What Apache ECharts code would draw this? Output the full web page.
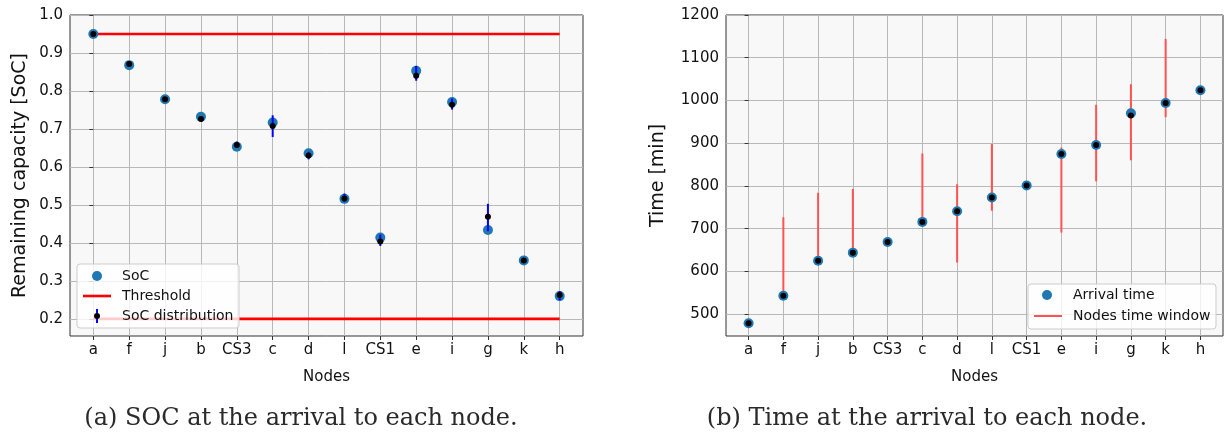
<!DOCTYPE html>
<html>
<head>
<meta charset="utf-8">
<script src="https://cdn.jsdelivr.net/npm/echarts@6/dist/echarts.min.js"></script>
<style>
html,body{margin:0;padding:0;background:#fff;}
#main{width:1228px;height:438px;}
</style>
</head>
<body>
<div id="main"></div>
<script>
// ---------- data ----------
var categories = ['a','f','j','b','CS3','c','d','l','CS1','e','i','g','k','h'];

// (a) state of charge at arrival
var socValues  = [0.950, 0.868, 0.778, 0.732, 0.653, 0.717, 0.636, 0.516, 0.414, 0.853, 0.771, 0.434, 0.354, 0.260];
var socMean    = [0.950, 0.871, 0.778, 0.726, 0.658, 0.708, 0.630, 0.517, 0.404, 0.840, 0.764, 0.469, 0.354, 0.263];
var socLow     = [0.948, 0.866, 0.776, 0.722, 0.652, 0.679, 0.620, 0.508, 0.392, 0.827, 0.751, 0.431, 0.352, 0.249];
var socHigh    = [0.952, 0.874, 0.780, 0.731, 0.667, 0.736, 0.640, 0.530, 0.422, 0.866, 0.780, 0.503, 0.357, 0.273];
var thresholdHigh = 0.95;
var thresholdLow  = 0.20;
var socTicks = [0.2, 0.3, 0.4, 0.5, 0.6, 0.7, 0.8, 0.9, 1.0];

// (b) arrival time
var arrivalTime = [479, 543, 625, 644, 669, 716, 741, 773, 801, 875, 896, 970, 994, 1024];
var arrivalMean = [479, 543, 625, 644, 669, 716, 741, 773, 801, 875, 896, 965, 994, 1024];
var windowLow   = [null, 543, 625, 644, null, 712, 621, 742, null, 691, 811, 860, 961, null];
var windowHigh  = [null, 727, 784, 793, null, 876, 804, 898, null, 890, 990, 1038, 1144, null];
var timeTicks = [500, 600, 700, 800, 900, 1000, 1100, 1200];

// ---------- build ----------
var idx = categories.map(function (c, i) { return i; });
function pairs(arr) { return arr.map(function (v, i) { return [i, v]; }); }

var errData = idx.map(function (i) { return [i, socMean[i], socLow[i], socHigh[i]]; });
var winData = [];
idx.forEach(function (i) {
  if (windowLow[i] != null) winData.push([i, windowLow[i], windowHigh[i]]);
});

var GRID_BG = '#f8f8f8';
var GRID_LINE = '#b8b8b8';
var FRAME = '#333333';
var TICK_FONT = 15;
var TXT = '#111111';

function xAxisCfg(g) {
  return {
    gridIndex: g, type: 'value', min: -0.65, max: 13.65,
    axisLine: { show: false },
    axisTick: { show: true, customValues: idx, length: 4, lineStyle: { color: FRAME, width: 1 } },
    axisLabel: { customValues: idx, margin: 7, fontSize: TICK_FONT, color: TXT, fontFamily: 'DejaVu Sans',
      formatter: function (v) { return categories[Math.round(v)]; } },
    splitLine: { show: true, customValues: idx, lineStyle: { color: GRID_LINE, width: 1 } },
    name: 'Nodes', nameLocation: 'middle', nameGap: 34,
    nameTextStyle: { fontSize: 15, color: TXT, fontFamily: 'DejaVu Sans' }
  };
}

function legendText(x, y, s) {
  return { type: 'text', x: x, y: y, z: 101,
    style: { text: s, fontSize: 14, fontFamily: 'DejaVu Sans', fill: TXT, verticalAlign: 'middle' } };
}

var option = {
  animation: false,
  backgroundColor: '#ffffff',
  grid: [
    { left: 70, top: 15, width: 513, height: 321, show: true, backgroundColor: GRID_BG, borderColor: FRAME, borderWidth: 1 },
    { left: 726, top: 15, width: 497, height: 321, show: true, backgroundColor: GRID_BG, borderColor: FRAME, borderWidth: 1 }
  ],
  xAxis: [xAxisCfg(0), xAxisCfg(1)],
  yAxis: [
    {
      gridIndex: 0, type: 'value', min: 0.155, max: 1.0,
      axisLine: { show: false },
      axisTick: { show: true, customValues: socTicks, length: 4, lineStyle: { color: FRAME } },
      axisLabel: { customValues: socTicks, margin: 7, fontSize: TICK_FONT, color: TXT, fontFamily: 'DejaVu Sans',
        formatter: function (v) { return v.toFixed(1); } },
      splitLine: { show: true, customValues: socTicks, lineStyle: { color: GRID_LINE, width: 1 } },
      name: 'Remaining capacity [SoC]', nameLocation: 'middle', nameGap: 40,
      nameTextStyle: { fontSize: 19, color: TXT, fontFamily: 'DejaVu Sans' }
    },
    {
      gridIndex: 1, type: 'value', min: 449, max: 1200,
      axisLine: { show: false },
      axisTick: { show: true, customValues: timeTicks, length: 4, lineStyle: { color: FRAME } },
      axisLabel: { customValues: timeTicks, margin: 7, fontSize: TICK_FONT, color: TXT, fontFamily: 'DejaVu Sans',
        formatter: function (v) { return String(Math.round(v)); } },
      splitLine: { show: true, customValues: timeTicks, lineStyle: { color: GRID_LINE, width: 1 } },
      name: 'Time [min]', nameLocation: 'middle', nameGap: 58,
      nameTextStyle: { fontSize: 19, color: TXT, fontFamily: 'DejaVu Sans' }
    }
  ],
  series: [
    // ----- (a) -----
    {
      name: 'Threshold', type: 'line', xAxisIndex: 0, yAxisIndex: 0, symbol: 'none', silent: true,
      lineStyle: { color: '#ff0000', width: 2.6 }, z: 2,
      data: [[0, thresholdHigh], [categories.length - 1, thresholdHigh]]
    },
    {
      name: 'Threshold low', type: 'line', xAxisIndex: 0, yAxisIndex: 0, symbol: 'none', silent: true,
      lineStyle: { color: '#ff0000', width: 2.6 }, z: 2,
      data: [[0, thresholdLow], [categories.length - 1, thresholdLow]]
    },
    {
      name: 'SoC', type: 'scatter', xAxisIndex: 0, yAxisIndex: 0, symbolSize: 10, z: 3,
      itemStyle: { color: '#1f77b4', opacity: 1 },
      data: pairs(socValues)
    },
    {
      name: 'SoC distribution', type: 'custom', xAxisIndex: 0, yAxisIndex: 0, z: 4,
      encode: { x: 0, y: 1 },
      data: errData,
      renderItem: function (params, api) {
        var x = api.value(0);
        var m = api.coord([x, api.value(1)]);
        var lo = api.coord([x, api.value(2)]);
        var hi = api.coord([x, api.value(3)]);
        return {
          type: 'group',
          children: [
            { type: 'line', shape: { x1: lo[0], y1: lo[1], x2: hi[0], y2: hi[1] },
              style: { stroke: '#0000ff', lineWidth: 2 } },
            { type: 'circle', shape: { cx: m[0], cy: m[1], r: 3 }, style: { fill: '#000000' } }
          ]
        };
      }
    },
    // ----- (b) -----
    {
      name: 'Nodes time window', type: 'custom', xAxisIndex: 1, yAxisIndex: 1, z: 2,
      encode: { x: 0, y: [1, 2] },
      data: winData,
      renderItem: function (params, api) {
        var x = api.value(0);
        var lo = api.coord([x, api.value(1)]);
        var hi = api.coord([x, api.value(2)]);
        return { type: 'line', shape: { x1: lo[0], y1: lo[1], x2: hi[0], y2: hi[1] },
          style: { stroke: '#ff5252', lineWidth: 2 } };
      }
    },
    {
      name: 'Arrival time', type: 'scatter', xAxisIndex: 1, yAxisIndex: 1, symbolSize: 10, z: 3,
      itemStyle: { color: '#1f77b4', opacity: 1 },
      data: pairs(arrivalTime)
    },
    {
      name: 'Arrival mean', type: 'scatter', xAxisIndex: 1, yAxisIndex: 1, symbolSize: 6, z: 4,
      itemStyle: { color: '#000000', opacity: 1 },
      data: pairs(arrivalMean)
    }
  ],
  graphic: {
    elements: [
      // legend (a)
      { type: 'rect', z: 100, shape: { x: 77, y: 264, width: 162, height: 64, r: 3 },
        style: { fill: 'rgba(255,255,255,0.8)', stroke: '#cccccc', lineWidth: 1 } },
      { type: 'circle', z: 101, shape: { cx: 97, cy: 276, r: 5 }, style: { fill: '#1f77b4' } },
      { type: 'line', z: 101, shape: { x1: 83, y1: 296, x2: 111, y2: 296 }, style: { stroke: '#ff0000', lineWidth: 2.6 } },
      { type: 'line', z: 101, shape: { x1: 97, y1: 309, x2: 97, y2: 323 }, style: { stroke: '#0000ff', lineWidth: 2 } },
      { type: 'circle', z: 102, shape: { cx: 97, cy: 316, r: 3 }, style: { fill: '#000000' } },
      legendText(122, 276, 'SoC'),
      legendText(122, 296, 'Threshold'),
      legendText(122, 316, 'SoC distribution'),
      // legend (b)
      { type: 'rect', z: 100, shape: { x: 1028, y: 284, width: 188, height: 45, r: 3 },
        style: { fill: 'rgba(255,255,255,0.8)', stroke: '#cccccc', lineWidth: 1 } },
      { type: 'circle', z: 101, shape: { cx: 1047, cy: 295, r: 5 }, style: { fill: '#1f77b4' } },
      { type: 'line', z: 101, shape: { x1: 1034, y1: 316, x2: 1062, y2: 316 }, style: { stroke: '#ff5252', lineWidth: 2 } },
      legendText(1073, 295, 'Arrival time'),
      legendText(1073, 316, 'Nodes time window'),
      // captions
      { type: 'text', x: 301, y: 419, z: 100, style: { text: '(a) SOC at the arrival to each node.', fontSize: 24,
        fontFamily: 'DejaVu Serif', fill: '#2a2a2a', align: 'center', verticalAlign: 'middle' } },
      { type: 'text', x: 927, y: 419, z: 100, style: { text: '(b) Time at the arrival to each node.', fontSize: 24,
        fontFamily: 'DejaVu Serif', fill: '#2a2a2a', align: 'center', verticalAlign: 'middle' } }
    ]
  }
};

var chart = echarts.init(document.getElementById('main'), null, { renderer: 'canvas' });
chart.setOption(option);
</script>
</body>
</html>
